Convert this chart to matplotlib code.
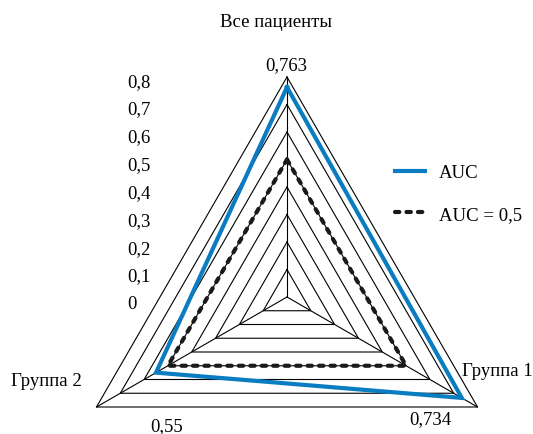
import numpy as np
import matplotlib
matplotlib.use("Agg")
import matplotlib.pyplot as plt

plt.rcParams['font.family'] = ['Liberation Serif', 'DejaVu Serif']

categories = ["Все пациенты", "Группа 1", "Группа 2"]
auc_values = [0.763, 0.734, 0.55]
auc_labels = ["0,763", "0,734", "0,55"]
ref_values = [0.5, 0.5, 0.5]
ring_values = [0.1, 0.2, 0.3, 0.4, 0.5, 0.6, 0.7, 0.8]
tick_values = [0, 0.1, 0.2, 0.3, 0.4, 0.5, 0.6, 0.7, 0.8]
tick_labels = ["0", "0,1", "0,2", "0,3", "0,4", "0,5", "0,6", "0,7", "0,8"]

W, H, DPI = 533, 435, 100
cx, cy, scale = 287, 298, 275.0  # pixel centre and px per unit

angles = np.deg2rad([90, -30, 210])


def xy(vals):
    v = np.asarray(vals, dtype=float)
    x = v * np.cos(angles)
    y = v * np.sin(angles)
    return np.append(x, x[0]), np.append(y, y[0])


fig = plt.figure(figsize=(W / DPI, H / DPI), dpi=DPI)
ax = fig.add_axes([0, 0, 1, 1])
ax.set_xlim(-cx / scale, (W - cx) / scale)
ax.set_ylim(-(H - cy) / scale, cy / scale)
ax.axis('off')

# grid rings
for r in ring_values:
    gx, gy = xy([r, r, r])
    ax.plot(gx, gy, color='black', lw=0.8, zorder=1)
# spokes
rmax = max(ring_values)
for a in angles:
    ax.plot([0, rmax * np.cos(a)], [0, rmax * np.sin(a)], color='black', lw=0.8, zorder=1)

# series
bx, by = xy(auc_values)
ax.plot(bx, by, color='#0a7cc1', lw=3.0, solid_joinstyle='miter', zorder=3, label='AUC')
rx, ry = xy(ref_values)
ax.plot(rx, ry, color='#1a1a1a', lw=3.0, linestyle=(0, (1.05, 1.7)),
        dash_capstyle='round', zorder=2, label='AUC = 0,5')

fs = 13.5
def px(x, y):
    return (x - cx) / scale, (cy - y) / scale

# category labels
ax.text(*px(276, 22), categories[0], ha='center', va='center', fontsize=fs)
ax.text(*px(497, 372), categories[1], ha='center', va='center', fontsize=fs)
ax.text(*px(46, 381), categories[2], ha='center', va='center', fontsize=fs)

# value labels
ax.text(*px(286, 66), auc_labels[0], ha='center', va='center', fontsize=fs)
ax.text(*px(430, 420), auc_labels[1], ha='center', va='center', fontsize=fs)
ax.text(*px(167, 427), auc_labels[2], ha='center', va='center', fontsize=fs)

# radial tick labels on the left
tx = (127 - cx) / scale
for v, lab in zip(tick_values, tick_labels):
    ax.text(tx, v * 1.0125 - 0.025, lab, ha='left', va='center', fontsize=fs)

ax.legend(loc='upper left', bbox_to_anchor=(395 / W, 1 - 165 / H), frameon=False,
          fontsize=fs, handlelength=1.6, handletextpad=0.75, labelspacing=1.3,
          borderaxespad=0, borderpad=0)

fig.savefig('out.png', dpi=DPI)
